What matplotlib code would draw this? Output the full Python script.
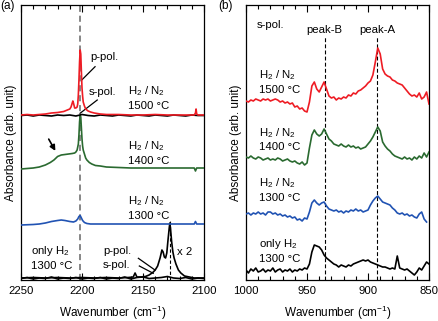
import numpy as np
import matplotlib
matplotlib.use("Agg")
import matplotlib.pyplot as plt
from matplotlib.ticker import MultipleLocator, NullLocator

plt.rcParams['font.family'] = ['Liberation Sans', 'DejaVu Sans']
plt.rcParams['mathtext.fontset'] = 'custom'
plt.rcParams['mathtext.rm'] = 'Liberation Sans'
plt.rcParams['mathtext.it'] = 'Liberation Sans:italic'
plt.rcParams['mathtext.bf'] = 'Liberation Sans:bold'
FS = 8.2
FST = 8.2
LW = 1.2

# ---------------- Panel (a) data ----------------
a_red_x = [2250, 2245, 2240, 2235, 2230, 2225, 2220, 2215, 2212, 2210, 2209, 2208, 2207.5, 2207, 2206, 2205,
           2204, 2203.5, 2203, 2202.5, 2202, 2201.5, 2201, 2200.5, 2200, 2199.5, 2199, 2198, 2197, 2195, 2193,
           2190, 2185, 2180, 2170, 2160, 2150, 2140, 2130, 2120, 2112, 2108, 2107, 2106.5, 2106, 2105, 2100]
a_red_y = [165, 165.5, 165, 165.5, 166, 167, 167.5, 168.5, 170, 171, 173, 177, 179, 177, 172, 172,
           173, 176, 185, 200, 218, 230, 226, 208, 192, 184, 178, 174, 171, 169, 168,
           167, 166, 165.5, 165.5, 165, 165, 165.5, 165, 165, 165, 165, 167, 171, 166, 165, 165]

a_spol_x = [2250, 2245, 2240, 2235, 2230, 2225, 2220, 2215, 2210, 2205, 2200, 2195, 2190, 2185, 2180, 2175,
            2170, 2165, 2160, 2155, 2150, 2145, 2140, 2135, 2130, 2125, 2120, 2115, 2110, 2105, 2100]
a_spol1500_y = [164.5, 165, 164, 165, 164.5, 164, 165, 164.5, 165, 164, 165.5, 164.5, 164, 165, 164.5, 164,
                165, 164.5, 164, 165, 164.5, 164, 165, 164.5, 164, 165, 164.5, 164, 165, 164.5, 164.5]

a_green_x = [2250, 2245, 2240, 2235, 2230, 2226, 2223, 2220, 2217, 2214, 2211, 2208, 2206, 2205, 2204, 2203,
             2202.5, 2202, 2201.5, 2201, 2200.5, 2200, 2199.5, 2199, 2198, 2197, 2196, 2194, 2192, 2189, 2185,
             2180, 2170, 2160, 2150, 2140, 2130, 2120, 2110, 2108, 2107, 2106, 2100]
a_green_y = [111, 111.5, 112, 113, 115, 117.5, 120, 123.5, 125, 125.5, 126, 126.5, 127, 128, 130, 136,
             145, 158, 165, 163, 152, 141, 134, 130, 126, 122, 120, 117.5, 116, 114.5, 114,
             113, 112.5, 112, 112, 112, 112, 112, 112, 112, 109, 112, 112]

a_blue_x = [2250, 2240, 2235, 2230, 2225, 2220, 2217, 2214, 2210, 2207, 2205, 2203.5, 2202.5, 2201.5, 2200.5,
            2199.5, 2198, 2196, 2193, 2188, 2180, 2170, 2160, 2150, 2140, 2130, 2120, 2110, 2108, 2107, 2106, 2100]
a_blue_y = [55, 55.5, 56, 57, 58.5, 59.5, 60, 59.5, 58.5, 58, 59, 61, 63.5, 64.5, 62,
            59.5, 57.5, 56.5, 56, 56, 56, 56, 56, 56, 56, 56, 56, 56, 56, 58.5, 56, 56]

a_h2_x = [2250, 2240, 2230, 2220, 2210, 2200, 2190, 2180, 2170, 2162, 2158, 2156.5, 2155, 2152, 2148, 2145,
          2142, 2140, 2138, 2136, 2134.5, 2133.5, 2132.5, 2131.5, 2130.5, 2129.5, 2128.5, 2128, 2127.5, 2126.5,
          2125.5, 2124.5, 2123, 2121, 2119, 2116, 2112, 2108, 2100]
a_h2_y = [2, 2.5, 2, 2.5, 2, 2.5, 2, 2.5, 2, 2.5, 3, 7, 3, 3, 3.5, 5,
          7.5, 10, 14, 22, 30, 28, 23, 22, 27, 40, 52, 57, 52, 38,
          28, 22, 16, 10, 7, 4, 3, 2, 2]
a_spolH2_y = [1.5, 2.5, 1, 2, 1.5, 3, 1, 2, 1.5, 2.5, 1, 2, 1.5, 2.5, 1, 2,
              1.5, 3, 1, 2.5, 3, 1.5, 2, 2.5, 3.5, 2, 1.5, 2.5, 1, 2, 1.5]

# ---------------- Panel (b) data ----------------
b_x = list(range(1000, 849, -2))
b_red = [179, 178, 180, 179, 181, 180, 179, 181, 180, 181, 179, 180, 181, 180, 178, 179, 177, 178, 176, 177,
         173, 174, 171, 172, 169, 168, 178, 194, 198, 191, 188, 193, 198, 191, 184, 182, 183, 180, 182, 181,
         183, 182, 185, 184, 187, 186, 189, 190, 192, 194, 197, 199, 205, 218, 232, 226, 211, 206, 204, 203,
         200, 199, 197, 196, 195, 192, 189, 186, 184, 185, 183, 187, 181, 183, 188, 176]
b_green = [123, 122, 124, 122, 121, 123, 122, 120, 121, 122, 120, 121, 120, 122, 121, 119, 120, 121, 119, 118,
           119, 117, 116, 118, 115, 117, 132, 145, 150, 146, 144, 146, 151, 146, 141, 139, 136, 135, 134, 136,
           134, 133, 135, 133, 134, 132, 133, 131, 132, 133, 136, 139, 143, 148, 153, 149, 138, 134, 131, 129,
           126, 124, 123, 122, 121, 123, 121, 122, 120, 123, 121, 124, 122, 127, 123, 128]
b_blue = [66, 67, 65, 67, 66, 68, 66, 67, 65, 68, 68, 66, 67, 65, 66, 64, 65, 63, 64, 62,
          63, 60, 61, 59, 62, 61, 68, 77, 80, 77, 75, 77, 78, 74, 71, 70, 69, 70, 68, 69,
          67, 69, 68, 70, 69, 71, 69, 70, 68, 69, 70, 75, 79, 82, 84, 81, 78, 77, 76, 75,
          72, 70, 67, 66, 67, 65, 66, 64, 65, 63, 62, 66, 68, 61, 58, np.nan]
b_black = [10, 7, 11, 9, 12, 8, 9, 11, 8, 10, 9, 12, 8, 10, 11, 8, 10, 9, 11, 8,
           10, 9, 11, 10, 12, 11, 16, 28, 35, 34, 33, 30, 25, 22, 20, 18, 16, 15, 13, 15,
           14, 13, 15, 14, 16, 17, 18, 19, 20, 19, 20, 18, 17, 16, 15, 14, 13, 13, 12, 11,
           12, 11, 24, 12, 11, 10, 11, 9, 7, 5, 8, 12, 10, 14, 18, 16]

RED = '#ee1c24'
GREEN = '#2a6a30'
BLUE = '#2153b3'

fig = plt.figure(figsize=(4.38, 3.21), dpi=100)
axa = fig.add_axes([21/438, 41/321, 183/438, 275/321])
axb = fig.add_axes([246/438, 41/321, 183/438, 275/321])

def style(ax, xlim):
    ax.set_xlim(*xlim)
    ax.set_ylim(0, 275)
    ax.xaxis.set_major_locator(MultipleLocator(50))
    ax.xaxis.set_minor_locator(MultipleLocator(10))
    ax.yaxis.set_major_locator(NullLocator())
    ax.tick_params(axis='x', which='both', direction='in', top=True, bottom=True,
                   labelsize=FST, pad=4, width=0.8)
    ax.tick_params(axis='x', which='major', length=5)
    ax.tick_params(axis='x', which='minor', length=3)
    for s in ax.spines.values():
        s.set_linewidth(0.9)
    ax.set_xlabel('Wavenumber (cm$^{-1}$)', fontsize=8.5, labelpad=6)
    ax.set_ylabel('Absorbance (arb. unit)', fontsize=8.5, labelpad=3)

style(axa, (2250, 2100))
style(axb, (1000, 850))

# ---- panel (a) ----
axa.axvline(2201.5, color='#666666', ls=(0, (4, 2.5)), lw=1.1, zorder=1)
axa.plot(a_spol_x, a_spolH2_y, color='black', lw=LW, zorder=2)
axa.plot(a_h2_x, a_h2_y, color='black', lw=LW, zorder=3)
axa.plot(a_blue_x, a_blue_y, color=BLUE, lw=LW, zorder=3)
axa.plot(a_green_x, a_green_y, color=GREEN, lw=LW, zorder=3)
axa.plot(a_spol_x, a_spol1500_y, color='black', lw=LW, zorder=3)
axa.plot(a_red_x, a_red_y, color=RED, lw=LW, zorder=4)
axa.plot([2128, 2128], [0, 60], color='black', ls=(0, (3, 2)), lw=0.8, zorder=2)

axa.text(2193.4, 223, 'p-pol.', fontsize=FS, va='center', ha='left')
axa.plot([2189.3, 2200.2], [213.3, 200], color='black', lw=0.9)
axa.text(2194.8, 188, 's-pol.', fontsize=FS, va='center', ha='left')
axa.plot([2187.5, 2201.6], [180, 166.7], color='black', lw=0.9)

for y1, y2, t in [(189, 174, '1500 °C'), (134, 119, '1400 °C'), (79, 64, '1300 °C')]:
    axa.text(2162.3, y1, 'H$_2$ / N$_2$', fontsize=FS, va='center', ha='left')
    axa.text(2162.3, y2, t, fontsize=FS, va='center', ha='left')
axa.text(2241.8, 29, 'only H$_2$', fontsize=FS, va='center', ha='left')
axa.text(2241.8, 14, '1300 °C', fontsize=FS, va='center', ha='left')
axa.text(2182.8, 29, 'p-pol.', fontsize=FS, va='center', ha='left')
axa.text(2182.8, 15.5, 's-pol.', fontsize=FS, va='center', ha='left')
axa.plot([2153.8, 2140.2], [21.7, 10], color='black', lw=0.9)
axa.plot([2153.0, 2141.6], [14, 6.7], color='black', lw=0.9)
axa.text(2122.4, 28.3, 'x 2', fontsize=FS, va='center', ha='left')
axa.annotate('', xy=(2220.7, 126.7), xytext=(2228.4, 143.3),
             arrowprops=dict(arrowstyle='-|>', color='black', lw=1.2, mutation_scale=8))

# ---- panel (b) ----
for xv in (935.5, 892.5):
    axb.plot([xv, xv], [0, 243], color='black', ls=(0, (3.5, 2)), lw=0.8, zorder=1)
axb.plot(b_x, b_black, color='black', lw=LW, zorder=3)
axb.plot(b_x, b_blue, color=BLUE, lw=LW, zorder=3)
axb.plot(b_x, b_green, color=GREEN, lw=LW, zorder=3)
axb.plot(b_x, b_red, color=RED, lw=LW, zorder=3)

axb.text(991.5, 255, 's-pol.', fontsize=FS, va='center', ha='left')
axb.text(935.5, 250, 'peak-B', fontsize=FS, va='center', ha='center')
axb.text(892.4, 250, 'peak-A', fontsize=FS, va='center', ha='center')
for y1, y2, t in [(205, 190, '1500 °C'), (147, 132.5, '1400 °C'), (97, 82, '1300 °C')]:
    axb.text(989.3, y1, 'H$_2$ / N$_2$', fontsize=FS, va='center', ha='left')
    axb.text(989.3, y2, t, fontsize=FS, va='center', ha='left')
axb.text(989.3, 36, 'only H$_2$', fontsize=FS, va='center', ha='left')
axb.text(989.3, 21.5, '1300 °C', fontsize=FS, va='center', ha='left')

fig.text(0/438, 1 - 6/321, '(a)', fontsize=8.5, va='center', ha='left')
fig.text(218/438, 1 - 6/321, '(b)', fontsize=8.5, va='center', ha='left')

fig.savefig('out.png', dpi=100)
